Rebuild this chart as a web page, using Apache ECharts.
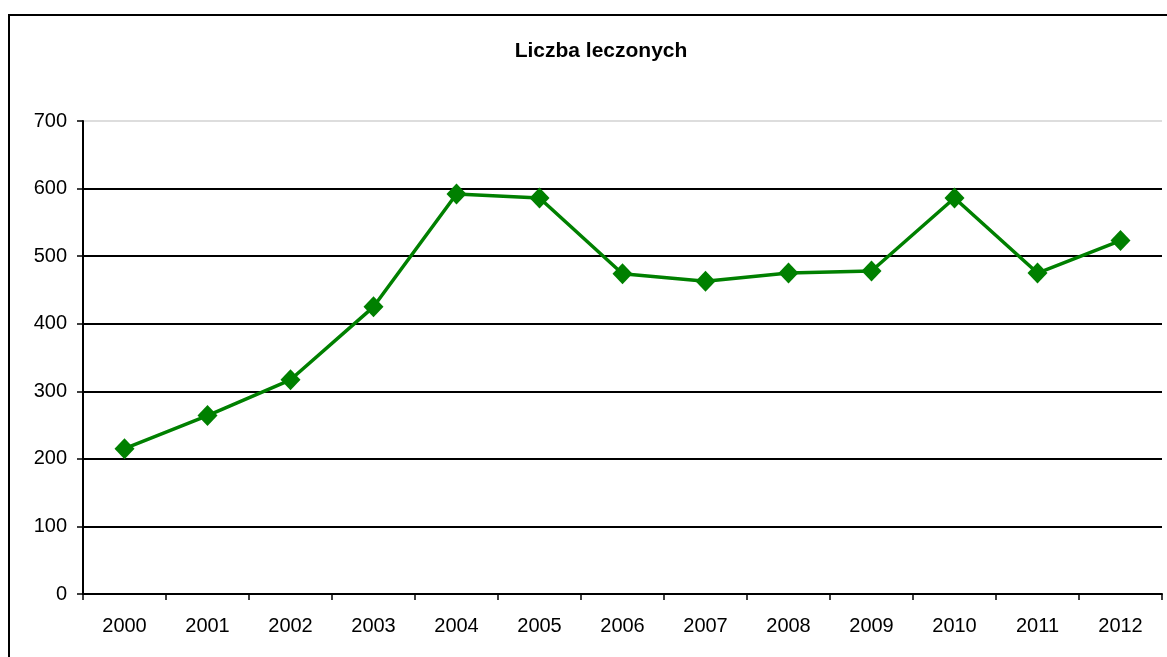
<!DOCTYPE html>
<html>
<head>
<meta charset="utf-8">
<script src="https://cdn.jsdelivr.net/npm/echarts@6/dist/echarts.min.js"></script>
<style>
html,body{margin:0;padding:0;background:#fff;}
#chart{width:1167px;height:657px;}
</style>
</head>
<body>
<div id="chart"></div>
<script>
const years = ['2000','2001','2002','2003','2004','2005','2006','2007','2008','2009','2010','2011','2012'];
const values = [215, 264, 317, 425, 592, 586, 474, 463, 475, 478, 586, 475, 523];
const titleText = 'Liczba leczonych';

const chart = echarts.init(document.getElementById('chart'), null, {renderer: 'canvas'});
chart.setOption({
  animation: false,
  backgroundColor: '#fff',
  title: {
    text: titleText,
    left: 596, top: 36, textAlign: 'center',
    textStyle: {fontFamily: 'Liberation Sans, Arial', fontSize: 21, fontWeight: 'bold', color: '#000'}
  },
  graphic: [{
    type: 'rect', shape: {x: 9, y: 15, width: 1200, height: 700},
    style: {fill: 'none', stroke: '#000', lineWidth: 2}, silent: true, z: 100
  }],
  grid: {left: 83, right: 5, top: 121, bottom: 63, containLabel: false},
  xAxis: {
    type: 'category', data: years, boundaryGap: true,
    axisLine: {lineStyle: {color: '#000', width: 2}},
    axisTick: {show: true, length: 6, inside: false, lineStyle: {color: '#000', width: 1.5}},
    axisLabel: {fontFamily: 'Liberation Sans, Arial', fontSize: 20, color: '#000', margin: 22},
    splitLine: {show: false}
  },
  yAxis: {
    type: 'value', min: 0, max: 700, interval: 100,
    axisLine: {show: true, lineStyle: {color: '#000', width: 2}},
    axisTick: {show: true, length: 6, lineStyle: {color: '#000', width: 1.5}},
    axisLabel: {fontFamily: 'Liberation Sans, Arial', fontSize: 20, color: '#000', margin: 16},
    splitLine: {show: true, lineStyle: {color: ['#000','#000','#000','#000','#000','#000','#000','#ddd'], width: 2}}
  },
  series: [{
    type: 'line', data: values,
    symbol: 'diamond', symbolSize: [20, 21],
    itemStyle: {color: '#008000'},
    lineStyle: {color: '#008000', width: 3.5},
    z: 5
  }]
});
</script>
</body>
</html>
